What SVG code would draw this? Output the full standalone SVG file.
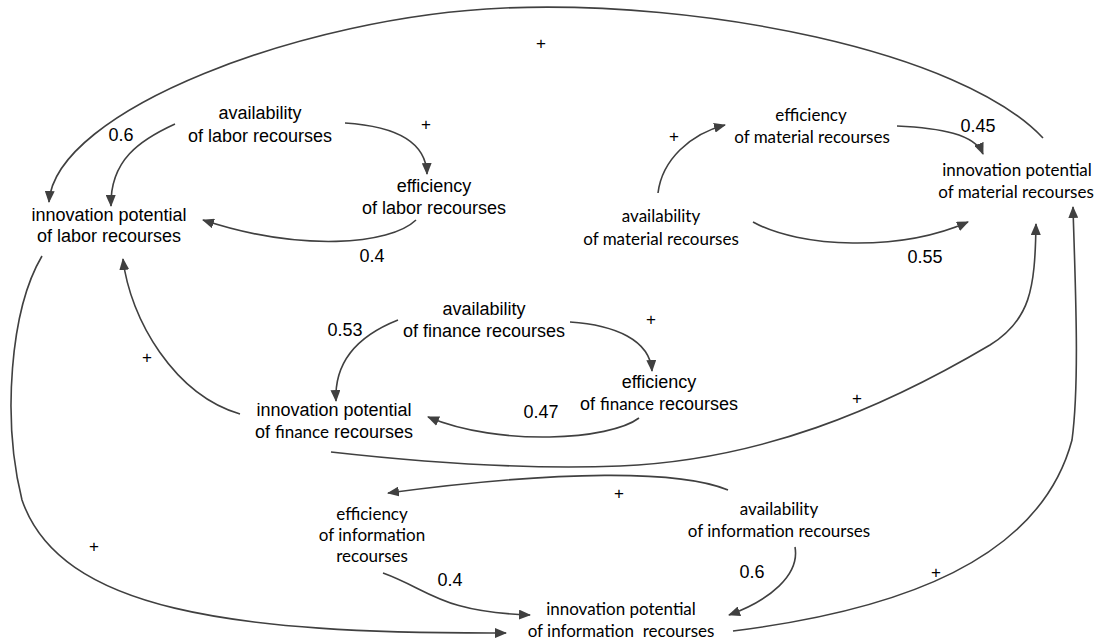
<svg xmlns="http://www.w3.org/2000/svg" width="1100" height="644" viewBox="0 0 1100 644">
<defs>
<marker id="ah" viewBox="0 0 12 10" refX="11" refY="5" markerWidth="12" markerHeight="10" markerUnits="userSpaceOnUse" orient="auto">
<path d="M0,0 L12,5 L0,10 z" fill="#404040"/>
</marker>
<style>
.a{font-family:"Liberation Sans",Arial,sans-serif;font-size:18px;fill:#000;text-anchor:middle}
.c{font-family:Lato,"Noto Sans",sans-serif;font-size:17px;fill:#000;text-anchor:middle}
.cs{font-family:Lato,"Noto Sans",sans-serif;font-size:17px}
.n{font-family:"Liberation Sans",Arial,sans-serif;font-size:18px;fill:#000;text-anchor:middle}
.p{font-family:"Liberation Sans",Arial,sans-serif;font-size:17px;fill:#000;text-anchor:middle}
.e{fill:none;stroke:#404040;stroke-width:1.6}
.m{marker-end:url(#ah)}
</style>
</defs>
<rect width="1100" height="644" fill="#fff"/>
<g id="connectors">
<path class="e m" d="M1043,138 C960,50 700,0 505,8 C305,16 55,110 49,202"/>
<path class="e m" d="M345,123 C392,126 426,140 427,174"/>
<path class="e m" d="M175,124 C140,140 110,160 111,206"/>
<path class="e m" d="M416,220 C390,245 300,252 203,220"/>
<path class="e m" d="M658,193 C662,160 690,134 725,125"/>
<path class="e m" d="M897,126 C940,128 975,134 983,154"/>
<path class="e m" d="M753,222 C800,248 900,252 968,222"/>
<path class="e m" d="M570,322 C615,325 650,340 652,371"/>
<path class="e m" d="M398,320 C360,335 334,360 336,401"/>
<path class="e m" d="M639,418 C610,440 500,447 428,417"/>
<path class="e m" d="M240,414 C175,395 130,320 123,259"/>
<path class="e m" d="M42,256 C10,310 2,420 22,500 C60,610 230,634 506,633"/>
<path class="e m" d="M331,452 C420,462 520,470 620,466 C760,460 880,410 990,345 C1030,320 1035,290 1036,224"/>
<path class="e m" d="M728,490 C680,470 560,470 388,493"/>
<path class="e m" d="M795,547 C800,575 770,600 729,615"/>
<path class="e m" d="M383,573 C430,590 440,612 530,615"/>
<path class="e m" d="M733,631 C900,610 1040,560 1072,440 C1080,380 1075,280 1073,207"/>
</g>
<g id="labels">
<text class="p" x="541" y="49">+</text>
<text class="n" x="121" y="141">0.6</text>
<text class="p" x="426" y="130">+</text>
<text class="n" x="372" y="262">0.4</text>
<text class="p" x="674" y="142">+</text>
<text class="n" x="978" y="132">0.45</text>
<text class="n" x="925" y="263">0.55</text>
<text class="n" x="345" y="336">0.53</text>
<text class="p" x="651" y="325">+</text>
<text class="n" x="541" y="418">0.47</text>
<text class="p" x="147" y="363">+</text>
<text class="p" x="857" y="404">+</text>
<text class="p" x="94" y="552">+</text>
<text class="p" x="619" y="499">+</text>
<text class="n" x="450" y="586">0.4</text>
<text class="n" x="752" y="578">0.6</text>
<text class="p" x="936" y="578">+</text>
</g>
<g id="labor-availability"><text class="a" x="260" y="119">availability</text><text class="a" x="260" y="142">of labor recourses</text></g>
<g id="labor-innovation"><text class="a" x="109" y="221">innovation potential</text><text class="a" x="109" y="242">of labor recourses</text></g>
<g id="labor-efficiency"><text class="a" x="434" y="192">efficiency</text><text class="a" x="434" y="214">of labor recourses</text></g>
<g id="material-efficiency"><text class="c" x="811" y="121">efficiency</text><text class="c" x="812" y="143">of material recourses</text></g>
<g id="material-innovation"><text class="c" x="1017" y="176">innovation potential</text><text class="c" x="1016" y="198">of material recourses</text></g>
<g id="material-availability"><text class="c" x="661" y="222">availability</text><text class="c" x="661" y="245">of material recourses</text></g>
<g id="finance-availability"><text class="a" x="484" y="315">availability</text><text class="a" x="484" y="337">of finance recourses</text></g>
<g id="finance-efficiency"><text class="a" x="659" y="388">efficiency</text><text class="a" x="659" y="410">of <tspan class="cs">finance</tspan> recourses</text></g>
<g id="finance-innovation"><text class="a" x="334" y="416">innovation potential</text><text class="a" x="334" y="438">of <tspan class="cs">finance</tspan> recourses</text></g>
<g id="information-efficiency"><text class="c" x="372" y="520">efficiency</text><text class="c" x="372" y="541">of information</text><text class="c" x="372" y="562">recourses</text></g>
<g id="information-availability"><text class="c" x="779" y="515">availability</text><text class="c" x="779" y="537">of information recourses</text></g>
<g id="information-innovation"><text class="c" x="621" y="615">innovation potential</text><text class="c" x="621" y="637" xml:space="preserve">of information  recourses</text></g>
</svg>
